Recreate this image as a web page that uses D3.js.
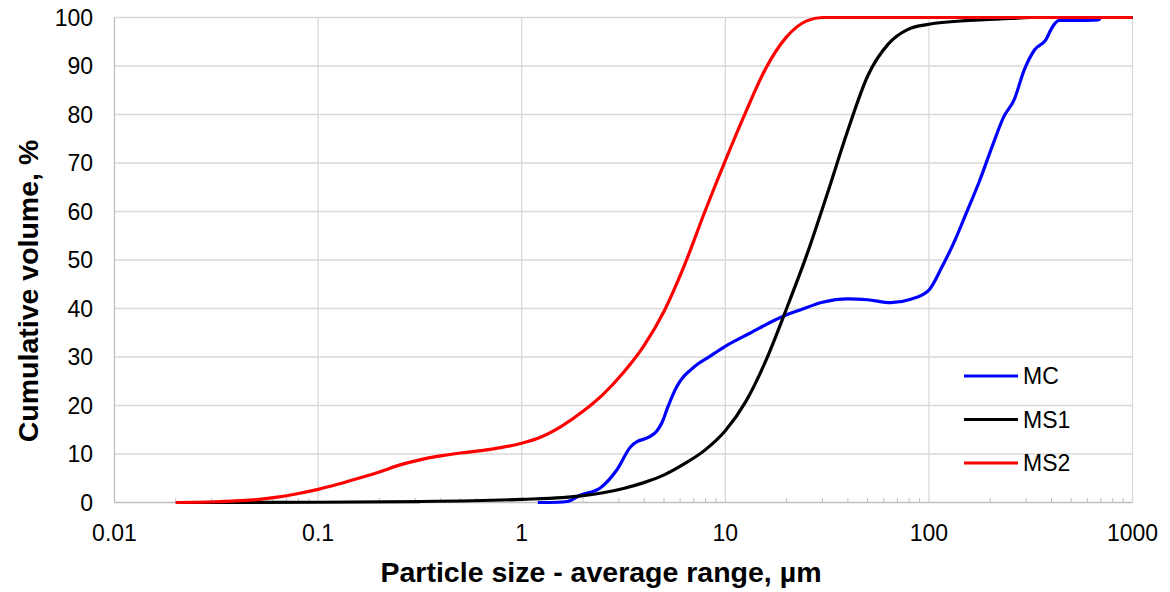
<!DOCTYPE html>
<html>
<head>
<meta charset="utf-8">
<script src="https://cdn.jsdelivr.net/npm/d3@7"></script>
<style>
  html, body { margin: 0; padding: 0; background: #fff; }
  svg { display: block; }
  text { font-family: "Liberation Sans", Arial, sans-serif; fill: #000; }
</style>
</head>
<body>
<script>
// ---- Data ----
const seriesNames = ["MC", "MS1", "MS2"];
const seriesColors = ["#0000ff", "#000000", "#ff0000"];

const mcSize =   [1.2, 1.5, 1.67, 1.94, 2.43, 2.93, 3.43, 3.7, 4.0, 4.3, 4.6, 4.9, 5.2, 5.5, 5.8, 6.2, 6.7, 7.3, 8.1, 9.9, 13.2, 19, 23.3, 30, 40, 50, 65, 81.5, 100, 116, 134, 150, 178, 207, 233, 262, 294, 330, 375, 405, 436, 500, 600, 680, 700, 1000];
const mcVol =    [0, 0.05, 0.2, 1.5, 3.0, 6.7, 11.5, 12.6, 13.1, 13.7, 14.7, 16.6, 19.5, 22, 24, 25.8, 27.2, 28.5, 29.7, 32.1, 34.9, 38.3, 39.7, 41.3, 42, 41.8, 41.2, 41.9, 43.8, 48.6, 54, 58.9, 66.5, 74, 79.5, 83, 89.2, 93.3, 95.4, 98.1, 99.4, 99.4, 99.4, 99.5, 100, 100];

const ms1Size =  [0.02, 0.1, 0.316, 1, 1.58, 2, 2.51, 3.16, 3.98, 5.01, 6.31, 7.94, 10, 12.6, 15.8, 20, 25.1, 31.6, 39.8, 50.1, 63.1, 79.4, 100, 158, 251, 316, 1000];
const ms1Vol =   [0, 0.05, 0.2, 0.65, 1.0, 1.4, 2.0, 2.9, 4.1, 5.7, 8.0, 10.8, 14.8, 20.8, 29.2, 40, 51, 63.5, 76.5, 88, 94.5, 97.6, 98.6, 99.4, 99.8, 100, 100];

const ms2Size =  [0.02, 0.0316, 0.05, 0.063, 0.079, 0.1, 0.126, 0.158, 0.2, 0.25, 0.316, 0.4, 0.5, 0.63, 0.79, 1, 1.26, 1.58, 2, 2.51, 3.16, 3.98, 5.01, 6.31, 7.94, 10, 12.6, 15.8, 20, 25.1, 30, 1000];
const ms2Vol =   [0, 0.15, 0.6, 1.1, 1.8, 2.7, 3.8, 5.0, 6.3, 7.7, 8.8, 9.6, 10.2, 10.7, 11.3, 12.2, 13.6, 15.8, 18.8, 22.3, 26.8, 32.3, 39.5, 49, 60, 70.5, 80.5, 89.5, 96, 99.3, 100, 100];

const xTickValues = [0.01, 0.1, 1, 10, 100, 1000];
const xTickLabels = ["0.01", "0.1", "1", "10", "100", "1000"];
const yTickValues = [0, 10, 20, 30, 40, 50, 60, 70, 80, 90, 100];

const xTitle = "Particle size - average range, µm";
const yTitle = "Cumulative volume, %";

// ---- Layout ----
const W = 1170, H = 592;
const plot = { left: 114.5, right: 1132.5, top: 17.5, bottom: 502.5 };

const svg = d3.select("body").append("svg").attr("width", W).attr("height", H);

const x = d3.scaleLog().domain([0.01, 1000]).range([plot.left, plot.right]);
const y = d3.scaleLinear().domain([0, 100]).range([plot.bottom, plot.top]);

const gridColor = "#d9d9d9";

// horizontal gridlines
svg.append("g").selectAll("line").data(yTickValues.filter(v => v > 0)).join("line")
  .attr("x1", plot.left).attr("x2", plot.right)
  .attr("y1", d => y(d)).attr("y2", d => y(d))
  .attr("stroke", gridColor).attr("stroke-width", 1.3);

// vertical gridlines
svg.append("g").selectAll("line").data(xTickValues.filter(v => v > 0.01)).join("line")
  .attr("x1", d => x(d)).attr("x2", d => x(d))
  .attr("y1", plot.top).attr("y2", plot.bottom)
  .attr("stroke", gridColor).attr("stroke-width", 1.3);

// minor ticks on x axis
const minor = [];
for (let e = -2; e < 3; e++) for (let m = 2; m <= 9; m++) minor.push(m * Math.pow(10, e));
svg.append("g").selectAll("line").data(minor).join("line")
  .attr("x1", d => x(d)).attr("x2", d => x(d))
  .attr("y1", plot.bottom - 4.5).attr("y2", plot.bottom)
  .attr("stroke", "#bfbfbf").attr("stroke-width", 1);

// axis lines
svg.append("line").attr("x1", plot.left).attr("x2", plot.right)
  .attr("y1", plot.bottom).attr("y2", plot.bottom)
  .attr("stroke", "#bfbfbf").attr("stroke-width", 1.3);
svg.append("line").attr("x1", plot.left).attr("x2", plot.left)
  .attr("y1", plot.top).attr("y2", plot.bottom)
  .attr("stroke", "#bfbfbf").attr("stroke-width", 1.3);

// tick labels
svg.append("g").selectAll("text").data(yTickValues).join("text")
  .attr("x", 93).attr("y", d => y(d)).attr("dy", "0.36em")
  .attr("text-anchor", "end").style("font-size", "23px")
  .text(d => d);

svg.append("g").selectAll("text").data(xTickValues).join("text")
  .attr("x", d => x(d)).attr("y", 540.5)
  .attr("text-anchor", "middle").style("font-size", "23px")
  .text((d, i) => xTickLabels[i]);

// axis titles
svg.append("text").attr("x", 601).attr("y", 581.5)
  .attr("text-anchor", "middle").style("font-size", "28.5px").style("font-weight", "bold")
  .text(xTitle);
svg.append("text").attr("transform", "translate(37.5,291) rotate(-90)")
  .attr("text-anchor", "middle").style("font-size", "28.5px").style("font-weight", "bold")
  .text(yTitle);

// series
const series = [
  { name: seriesNames[0], color: seriesColors[0], xs: mcSize, ys: mcVol },
  { name: seriesNames[1], color: seriesColors[1], xs: ms1Size, ys: ms1Vol },
  { name: seriesNames[2], color: seriesColors[2], xs: ms2Size, ys: ms2Vol }
];

const line = d3.line().x(d => x(d[0])).y(d => y(d[1])).curve(d3.curveMonotoneX);

svg.append("g").selectAll("path").data(series).join("path")
  .attr("d", s => line(s.xs.map((v, i) => [v, s.ys[i]])))
  .attr("fill", "none").attr("stroke", s => s.color)
  .attr("stroke-width", 3.2).attr("stroke-linejoin", "round").attr("stroke-linecap", "butt");

// legend
const legendY = [376, 419.5, 463];
const lg = svg.append("g").selectAll("g").data(series).join("g")
  .attr("transform", (d, i) => `translate(0,${legendY[i]})`);
lg.append("line").attr("x1", 964).attr("x2", 1018).attr("y1", 0).attr("y2", 0)
  .attr("stroke", d => d.color).attr("stroke-width", 3.2);
lg.append("text").attr("x", 1023).attr("y", 0).attr("dy", "0.36em")
  .style("font-size", "23px").text(d => d.name);
</script>
</body>
</html>
